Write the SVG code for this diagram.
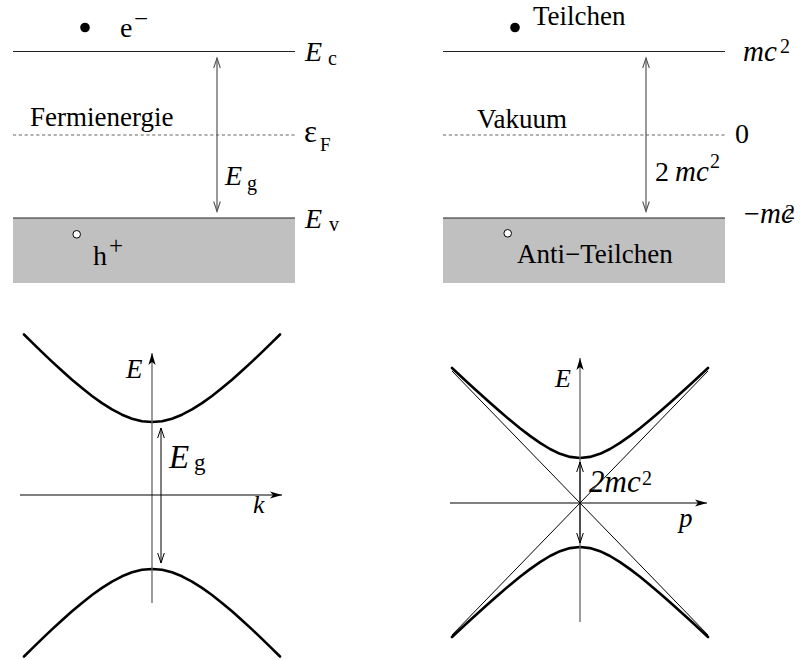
<svg xmlns="http://www.w3.org/2000/svg" width="804" height="660" viewBox="0 0 804 660" font-family="'Liberation Serif', 'Times New Roman', serif">
<style>
text{font-family:'Liberation Serif','Times New Roman',serif;fill:#000}
.it{font-style:italic}
.lvl{stroke:#222;stroke-width:1.2;fill:none}
.dash{stroke:#666;stroke-width:1.2;stroke-dasharray:3.2 2.6;fill:none}
.band{fill:#c0c0c0}
.garrow{stroke:#555;stroke-width:1.2;fill:none;marker-start:url(#openG);marker-end:url(#openG)}
.barrow{stroke:#000;stroke-width:1;fill:none;marker-start:url(#openB);marker-end:url(#openB)}
.vax{stroke:#666;stroke-width:1.3;fill:none;marker-end:url(#solid)}
.hax{stroke:#000;stroke-width:1;fill:none;marker-end:url(#solid)}
.curve{stroke:#000;stroke-width:2.6;fill:none;stroke-linejoin:round;stroke-linecap:round}
.asym{stroke:#000;stroke-width:1;fill:none}
</style>
<defs>
<marker id="openG" viewBox="-11 -5 13 10" markerWidth="13" markerHeight="10" refX="0" refY="0" orient="auto-start-reverse" markerUnits="userSpaceOnUse"><path d="M-10,-3.3 L0,0 L-10,3.3" fill="none" stroke="#555" stroke-width="1.1"/></marker>
<marker id="openB" viewBox="-11 -5 13 10" markerWidth="13" markerHeight="10" refX="0" refY="0" orient="auto-start-reverse" markerUnits="userSpaceOnUse"><path d="M-10,-3.3 L0,0 L-10,3.3" fill="none" stroke="#000" stroke-width="1"/></marker>
<marker id="solid" viewBox="-13 -5 14 10" markerWidth="14" markerHeight="10" refX="0" refY="0" orient="auto" markerUnits="userSpaceOnUse"><path d="M0,0 L-12,-3.6 L-9,0 L-12,3.6 Z" fill="#000"/></marker>
</defs>

<!-- Top-left: semiconductor band scheme -->
<g id="semiconductor-levels">
  <rect class="band" x="13" y="218" width="282" height="65"/>
  <line class="lvl" x1="13" y1="51.5" x2="295" y2="51.5"/>
  <line class="dash" x1="13" y1="135" x2="295" y2="135"/>
  <line class="lvl" x1="13" y1="218" x2="295" y2="218"/>
</g>
<g id="electron">
  <circle cx="85" cy="27.5" r="4.8" fill="#000"/>
  <text x="120" y="37" font-size="28">e</text>
  <text x="134" y="27" font-size="25">−</text>
</g>
<g id="hole">
  <circle cx="76.7" cy="234.3" r="3.8" fill="#fff" stroke="#000" stroke-width="1"/>
  <text x="93" y="265" font-size="28">h</text>
  <text x="109" y="254" font-size="25">+</text>
</g>
<g id="label-Ec"><text class="it" x="305" y="61" font-size="28">E</text><text x="328" y="65" font-size="20">c</text></g>
<g id="label-fermi"><text x="30" y="126" font-size="27">Fermienergie</text></g>
<g id="label-epsF"><text x="304" y="142" font-size="31">ε</text><text x="320" y="151" font-size="19">F</text></g>
<g id="label-Eg-top"><text class="it" x="225" y="185" font-size="28">E</text><text x="247" y="190" font-size="20">g</text></g>
<g id="label-Ev"><text class="it" x="305" y="228" font-size="28">E</text><text x="329" y="231" font-size="20">v</text></g>

<!-- Top-right: Dirac sea scheme -->
<g id="dirac-levels">
  <rect class="band" x="443" y="218" width="282" height="65"/>
  <line class="lvl" x1="443" y1="51.5" x2="725" y2="51.5"/>
  <line class="dash" x1="443" y1="135" x2="727" y2="135"/>
  <line class="lvl" x1="443" y1="218" x2="725" y2="218"/>
</g>
<g id="particle">
  <circle cx="515" cy="27.5" r="4.8" fill="#000"/>
  <text x="533" y="25" font-size="27">Teilchen</text>
</g>
<g id="antiparticle">
  <circle cx="507.7" cy="233.3" r="3.8" fill="#fff" stroke="#000" stroke-width="1"/>
  <text x="517" y="263" font-size="27">Anti−Teilchen</text>
</g>
<g id="label-mc2"><text class="it" x="743" y="61" font-size="29">mc</text><text x="780" y="53" font-size="20">2</text></g>
<g id="label-vakuum"><text x="477" y="128" font-size="27">Vakuum</text></g>
<g id="label-zero"><text x="735" y="143" font-size="28">0</text></g>
<g id="label-2mc2-top"><text x="655" y="181" font-size="28">2</text><text class="it" x="675" y="181" font-size="29">mc</text><text x="710" y="168" font-size="20">2</text></g>
<g id="label-minus-mc2"><text x="744" y="223" font-size="28">−</text><text class="it" x="760" y="223" font-size="29">mc</text><text x="785" y="219" font-size="20">2</text></g>

<!-- Bottom-left: semiconductor dispersion -->
<g id="semiconductor-bands">
  <polyline class="curve" points="24,334.5 32,342.4 42,352.1 52,361.6 62,370.8 72,379.7 82,388.1 92,396 102,403.1 112,409.4 122,414.7 132,418.7 142,421.2 152,422 162,421.2 172,418.7 182,414.7 192,409.4 202,403.1 212,396 222,388.1 232,379.7 242,370.8 252,361.6 262,352.1 272,342.4 280,334.5"/>
  <polyline class="curve" points="24,656.5 32,648.6 42,638.9 52,629.4 62,620.2 72,611.3 82,602.9 92,595 102,587.9 112,581.6 122,576.3 132,572.3 142,569.8 152,569 162,569.8 172,572.3 182,576.3 192,581.6 202,587.9 212,595 222,602.9 232,611.3 242,620.2 252,629.4 262,638.9 272,648.6 280,656.5"/>
</g>
<g id="label-E-left"><text class="it" x="126" y="378" font-size="27">E</text></g>
<g id="label-Eg-bottom"><text class="it" x="169" y="468" font-size="33">E</text><text x="194" y="470" font-size="23">g</text></g>
<g id="label-k"><text class="it" x="253" y="513" font-size="26">k</text></g>

<!-- Bottom-right: relativistic dispersion -->
<g id="dirac-asymptotes">
  <line class="asym" x1="452" y1="371" x2="708" y2="635"/>
  <line class="asym" x1="452" y1="635" x2="708" y2="371"/>
</g>
<g id="dirac-bands">
  <polyline class="curve" points="452,368 460,375.5 470,384.7 480,393.8 490,402.8 500,411.6 510,420.1 520,428.2 530,435.9 540,442.9 550,449 560,453.8 570,456.9 580,458 590,456.9 600,453.8 610,449 620,442.9 630,435.9 640,428.2 650,420.1 660,411.6 670,402.8 680,393.8 690,384.7 700,375.5 708,368"/>
  <polyline class="curve" points="452,637 460,629.5 470,620.3 480,611.2 490,602.2 500,593.4 510,584.9 520,576.8 530,569.1 540,562.1 550,556 560,551.2 570,548.1 580,547 590,548.1 600,551.2 610,556 620,562.1 630,569.1 640,576.8 650,584.9 660,593.4 670,602.2 680,611.2 690,620.3 700,629.5 708,637"/>
</g>
<g id="label-E-right"><text class="it" x="555" y="387" font-size="26">E</text></g>
<g id="label-2mc2-bottom"><text class="it" x="589" y="492" font-size="31">2mc</text><text x="642" y="485" font-size="20">2</text></g>
<g id="label-p"><text class="it" x="679" y="527" font-size="27">p</text></g>

<!-- Connectors: arrows and axes -->
<g id="connectors">
  <line class="garrow" x1="217" y1="58" x2="217" y2="211.5"/>
  <line class="garrow" x1="646" y1="58" x2="646" y2="211.5"/>
  <line class="vax" x1="152" y1="603" x2="152" y2="353"/>
  <line class="hax" x1="20" y1="495" x2="282" y2="495"/>
  <line class="barrow" x1="161" y1="428" x2="161" y2="563"/>
  <line class="vax" x1="580" y1="622" x2="580" y2="358"/>
  <line class="hax" x1="450" y1="503" x2="707" y2="503"/>
  <line class="barrow" x1="580" y1="462" x2="580" y2="543"/>
</g>
</svg>
